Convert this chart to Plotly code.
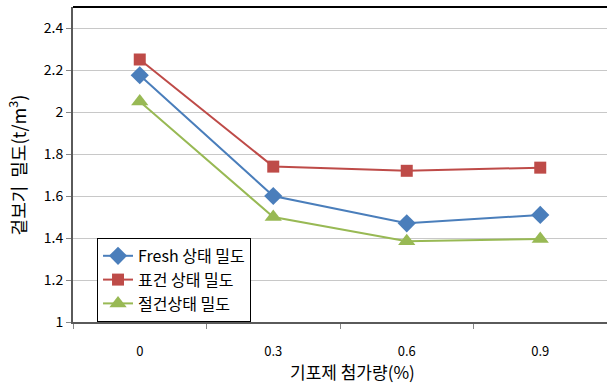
import plotly.graph_objects as go

# Foaming agent dosage (%) and densities (t/m3)
dosage = ["0", "0.3", "0.6", "0.9"]
fresh_density = [2.175, 1.60, 1.47, 1.51]
standard_density = [2.25, 1.74, 1.72, 1.735]
dry_density = [2.05, 1.50, 1.385, 1.395]

series_names = ["Fresh 상태 밀도", "표건 상태 밀도", "절건상태 밀도"]
y_ticks = [1, 1.2, 1.4, 1.6, 1.8, 2, 2.2, 2.4]
y_tick_text = ["1", "1.2", "1.4", "1.6", "1.8", "2", "2.2", "2.4"]

FONT = "Noto Sans CJK KR, Malgun Gothic, sans-serif"

fig = go.Figure()
styles = [
    ("#4A7EBB", "diamond", 14),
    ("#BE4B48", "square", 12),
    ("#98B954", "triangle-up", 15),
]
for name, vals, (color, symbol, size) in zip(
    series_names, [fresh_density, standard_density, dry_density], styles
):
    fig.add_trace(go.Scatter(
        x=dosage, y=vals, name=name, mode="lines+markers",
        line=dict(color=color, width=2),
        marker=dict(symbol=symbol, size=size, color=color),
    ))

fig.update_layout(
    width=607, height=385,
    margin=dict(l=73, r=0, t=7, b=63),
    paper_bgcolor="white", plot_bgcolor="white",
    font=dict(family=FONT, color="#000000"),
    showlegend=True,
    legend=dict(
        x=0.045, y=0.267, xanchor="left", yanchor="top",
        bgcolor="white", bordercolor="#000000", borderwidth=1,
        font=dict(size=16, family=FONT),
        tracegroupgap=0, itemwidth=30,
    ),
    xaxis=dict(
        type="category", range=[-0.5, 3.5],
        tickson="boundaries", ticks="outside", ticklen=5,
        tickcolor="#868686", showgrid=False,
        showline=True, linecolor="#5a5a5a", linewidth=2,
        tickfont=dict(size=13, family=FONT),
        ticklabelstandoff=16,
    ),
    yaxis=dict(
        range=[1, 2.5], tickvals=y_ticks, ticktext=y_tick_text,
        ticks="outside", ticklen=5, tickcolor="#868686",
        showgrid=True, gridcolor="#c8c8c8", gridwidth=1,
        showline=True, linecolor="#5a5a5a", linewidth=2,
        tickfont=dict(size=14, family=FONT), zeroline=False,
    ),
    annotations=[
        dict(text="기포제 첨가량(%)", x=(352 - 73) / 534, y=-(372 - 322) / 315,
             xref="paper", yref="paper", xanchor="center", yanchor="middle",
             showarrow=False, font=dict(size=17, family=FONT)),
        dict(text="겉보기  밀도(t/m<sup>3</sup>)", textangle=-90,
             xref="paper", yref="paper", x=-0.105, y=0.5,
             xanchor="center", yanchor="middle",
             showarrow=False, font=dict(size=18, family=FONT)),
    ],
    shapes=[
        dict(type="line", xref="paper", yref="paper", x0=0, x1=1, y0=1, y1=1,
             line=dict(color="#000000", width=2)),
    ],
)

fig.write_html("out.html")
